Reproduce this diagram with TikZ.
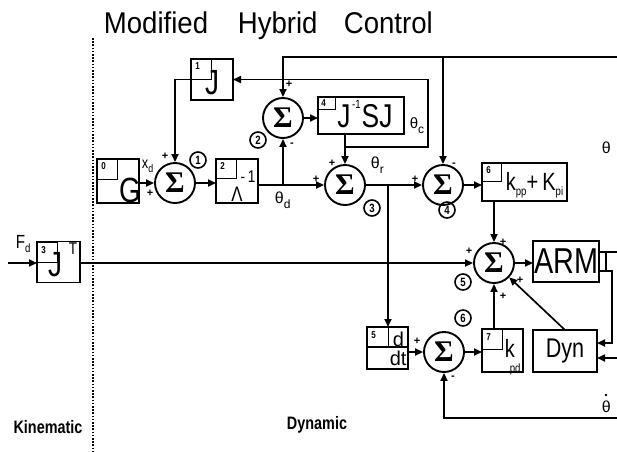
\documentclass[tikz,border=0pt]{standalone}
\usepackage{fontspec}
\setmainfont{Liberation Sans}
\newfontfamily\nar[FakeStretch=0.8]{Liberation Sans}
\newfontfamily\tit[FakeStretch=0.92]{Liberation Sans}
\newfontfamily\ser{Liberation Serif}
\usetikzlibrary{arrows.meta}
\begin{document}
\begin{tikzpicture}[x=1pt,y=-1pt,
 line width=1.7pt,
 blk/.style={draw, line width=1.9pt, inner sep=0pt, outer sep=0pt},
 numbox/.style={draw, line width=1.4pt, inner sep=0pt, anchor=north west},
 numtxt/.style={inner sep=0pt, font=\nar\bfseries\fontsize{10}{10}\selectfont},
 sumn/.style={draw, circle, line width=1.9pt, minimum size=40pt, inner sep=0pt, font=\ser\bfseries\fontsize{30}{30}\selectfont},
 ctag/.style={draw, circle, line width=1.6pt, minimum size=16pt, inner sep=0pt, font=\nar\bfseries\fontsize{12}{12}\selectfont},
 sgn/.style={inner sep=0pt, font=\bfseries\fontsize{11}{11}\selectfont},
 labbig/.style={inner sep=0pt, font=\nar\fontsize{35}{35}\selectfont},
 labtxt/.style={inner sep=0pt, anchor=base west},
 arrw/.style={-{Triangle[length=8pt,width=7pt]}},
 ttl/.style={anchor=base west, inner sep=0pt, font=\tit\fontsize{30}{30}\selectfont},
 zone/.style={inner sep=0pt, font=\nar\bfseries\fontsize{18}{18}\selectfont},
]
\useasboundingbox (0,0) rectangle (617,451);

% title
\node[ttl] (tt1) at (103,33) {Modified};
\node[ttl] (tt2) at (237,33) {Hybrid};
\node[ttl] (tt3) at (343,33) {Control};

% divider
\coordinate (dv1) at (93,38);
\coordinate (dv2) at (93,451);
\draw[line width=2.4pt, dash pattern=on 1.6pt off 1.6pt] (dv1) -- (dv2);

% blocks
\node[blk, minimum width=42pt, minimum height=44pt] (G) at (118,181) {};
\node[blk, minimum width=42pt, minimum height=41pt] (B1) at (212,79.5) {};
\node[blk, minimum width=42pt, minimum height=44pt] (B2) at (237,181) {};
\node[blk, minimum width=43pt, minimum height=41pt] (B3) at (58.5,262) {};
\node[blk, minimum width=86pt, minimum height=37pt] (B4) at (361,115.5) {};
\node[blk, minimum width=41pt, minimum height=42pt] (B5) at (387.5,348) {};
\node[blk, minimum width=85pt, minimum height=38pt] (B6) at (524.5,182) {};
\node[blk, minimum width=41pt, minimum height=43pt] (B7) at (502.5,350.5) {};
\node[blk, minimum width=66pt, minimum height=41pt, font=\nar\fontsize{36}{36}\selectfont] (ARM) at (566,261.5) {ARM};
\node[blk, minimum width=64pt, minimum height=42pt, font=\nar\fontsize{27}{27}\selectfont] (Dyn) at (565,351) {Dyn};

% number boxes
\node[numbox, minimum width=20pt, minimum height=20pt] (n0) at (G.north west) {};
\node[numtxt] (n0t) at ([shift={(6.5,7.5)}]G.north west) {0};
\node[numbox, minimum width=20pt, minimum height=20pt] (n1) at (B1.north west) {};
\node[numtxt] (n1t) at ([shift={(6.5,7.5)}]B1.north west) {1};
\node[numbox, minimum width=20pt, minimum height=19pt] (n2) at (B2.north west) {};
\node[numtxt] (n2t) at ([shift={(6.5,7.5)}]B2.north west) {2};
\node[numbox, minimum width=20pt, minimum height=20pt] (n3) at (B3.north west) {};
\node[numtxt] (n3t) at ([shift={(6.5,8.5)}]B3.north west) {3};
\node[numbox, minimum width=17pt, minimum height=12pt] (n4) at (B4.north west) {};
\node[numtxt] (n4t) at ([shift={(5.5,6)}]B4.north west) {4};
\node[numbox, minimum width=21pt, minimum height=20pt] (n5) at (B5.north west) {};
\node[numtxt] (n5t) at ([shift={(6.5,8.5)}]B5.north west) {5};
\node[numbox, minimum width=19pt, minimum height=18pt] (n6) at (B6.north west) {};
\node[numtxt] (n6t) at ([shift={(6.5,7.5)}]B6.north west) {6};
\node[numbox, minimum width=20pt, minimum height=20pt] (n7) at (B7.north west) {};
\node[numtxt] (n7t) at ([shift={(6.5,8.5)}]B7.north west) {7};
\coordinate (fb1) at (B5.west |- 0,347);
\coordinate (fb2) at (B5.east |- 0,347);
\draw[line width=1.4pt] (fb1) -- (fb2);

% block labels
\node[labbig] (lG) at (130,190) {G};
\node[labbig] (lJ1) at (212,83) {J};
\node[inner sep=0pt, font=\nar\fontsize{21}{21}\selectfont] (lL) at (237,194) {Λ};
\node[inner sep=0pt, font=\nar\fontsize{17}{17}\selectfont] (lL2) at (248,177) {-\,1};
\node[labbig] (lJ3) at (55,265) {J};
\node[inner sep=0pt, font=\nar\fontsize{17}{17}\selectfont] (lT3) at (73,249) {T};
\node[labtxt, anchor=base, font=\nar\fontsize{33}{33}\selectfont] (lB4) at (365,127)
  {J\kern1.5pt\raisebox{19pt}{\fontsize{12}{12}\selectfont -1}\kern1pt SJ};
\node[labtxt, font=\nar\fontsize{25}{25}\selectfont] (lB6) at (505,190)
  {k\raisebox{-5pt}{\fontsize{12}{12}\selectfont pp}+\,K\raisebox{-5pt}{\fontsize{12}{12}\selectfont pi}};
\node[labtxt, font=\fontsize{20}{20}\selectfont] (lB5a) at (392,346) {d};
\node[labtxt, font=\fontsize{20}{20}\selectfont] (lB5b) at (389,365) {dt};
\node[labtxt, font=\nar\fontsize{25}{25}\selectfont] (lB7a) at (504,357) {k};
\node[labtxt, font=\nar\fontsize{12}{12}\selectfont] (lB7b) at (509,372.5) {pd};

% summing junctions
\node[sumn] (S1) at (175,183) {Σ};
\node[sumn] (S2) at (283,118) {Σ};
\node[sumn] (S3) at (345,185) {Σ};
\node[sumn] (S4) at (443,185) {Σ};
\node[sumn] (S5) at (494,263) {Σ};
\node[sumn] (S6) at (444,352) {Σ};

% circled tags
\node[ctag] (T1) at (198,160) {1};
\node[ctag] (T2) at (258,140) {2};
\node[ctag] (T3) at (372,208) {3};
\node[ctag] (T4) at (447,210) {4};
\node[ctag] (T5) at (463,282) {5};
\node[ctag] (T6) at (463,318) {6};

% signs
\node[sgn] (g1a) at (165,156) {+};
\node[sgn] (g1b) at (150,193) {+};
\node[sgn] (g2a) at (289,84) {+};
\node[sgn] (g2b) at (292,145) {-};
\node[sgn] (g3a) at (332,163) {+};
\node[sgn] (g3b) at (316,179) {+};
\node[sgn] (g4a) at (415,179) {+};
\node[sgn] (g4b) at (454,165) {-};
\node[sgn] (g5a) at (469,251) {+};
\node[sgn] (g5b) at (503,242) {+};
\node[sgn] (g5c) at (520,280) {+};
\node[sgn] (g5d) at (503,296) {+};
\node[sgn] (g6a) at (417,341) {+};
\node[sgn] (g6b) at (453,378) {-};

% signal labels
\node[labtxt, font=\nar\fontsize{16}{16}\selectfont] (xd) at (141,168) {x\raisebox{-4pt}{\fontsize{11}{11}\selectfont d}};
\node[labtxt, font=\fontsize{16}{16}\selectfont] (thd) at (274,203) {θ\raisebox{-5pt}{\fontsize{12}{12}\selectfont d}};
\node[labtxt, font=\fontsize{16}{16}\selectfont] (thr) at (370,168) {θ\raisebox{-5pt}{\fontsize{12}{12}\selectfont r}};
\node[labtxt, font=\fontsize{15}{15}\selectfont] (thc) at (409,128) {θ\raisebox{-5pt}{\fontsize{12}{12}\selectfont c}};
\node[labtxt, font=\fontsize{16}{16}\selectfont] (th) at (601,153) {θ};
\node[labtxt, font=\fontsize{16}{16}\selectfont] (thdot) at (601,412) {θ};
\fill (606,395) circle (1.3pt);
\node[labtxt, font=\nar\fontsize{19}{19}\selectfont] (Fd) at (15,248) {F\raisebox{-4pt}{\fontsize{12}{12}\selectfont d}};
\node[zone] (kin) at (48,427) {Kinematic};
\node[zone] (dyn) at (317,425) {Dynamic};

% connectors
\coordinate (thR) at (617,57);
\draw[arrw] (thR) -- (S2 |- thR) -- (S2.north);
\draw[arrw] (S4 |- thR) -- (S4.north);
\draw[arrw] (S1 -| G.east) -- (S1.west);
\draw[arrw] (S1.east) -- (S1 -| B2.west);
\draw[arrw] (B1.west) -- (S1 |- B1.west) -- (S1.north);
\coordinate (jd) at (S2 |- S3);
\draw[arrw] (S3 -| B2.east) -- (S3.west);
\draw[arrw] (jd) -- (S2.south);
\draw[arrw] (S2.east) -- (S2 -| B4.west);
\coordinate (jc) at (345,147);
\coordinate (lpR) at (428,147);
\coordinate (lpT) at (lpR |- B1.east);
\draw[arrw] (S3 |- B4.south) -- (S3.north);
\draw[arrw] (jc) -- (lpR) -- (lpT) -- (B1.east);
\draw[arrw] (S3.east) -- (S4.west);
\coordinate (jr) at (388,185);
\draw[arrw] (jr) -- (jr |- B5.north);
\draw[arrw] (S4.east) -- (S4 -| B6.west);
\draw[arrw] (S5 |- B6.south) -- (S5.north);
\coordinate (Fin) at (8,263);
\draw[arrw] (Fin) -- (B3.west |- Fin);
\draw[arrw] (S5 -| B3.east) -- (S5.west);
\draw[arrw] (S5.east) -- (S5 -| ARM.west);
\draw[arrw] (Dyn.north) -- (S5);
\draw[arrw] (S6 -| B5.east) -- (S6.west);
\draw[arrw] (S6.east) -- (S6 -| B7.west);
\draw[arrw] (S5 |- B7.north) -- (S5.south);
\coordinate (fbR) at (617,418);
\draw[arrw] (fbR) -- (S6 |- fbR) -- (S6.south);
\coordinate (ao1) at (617,252);
\coordinate (ak) at (612,271);
\coordinate (akd) at (612,343);
\coordinate (dinR) at (617,358);
\coordinate (ab1) at (606,252);
\coordinate (ab2) at (606,271);
\draw (ARM.east |- ao1) -- (ao1);
\draw[arrw] (ARM.east |- ak) -- (ak) -- (akd) -- (Dyn.east |- akd);
\draw (ab1) -- (ab2);
\draw[arrw] (dinR) -- (Dyn.east |- dinR);
\end{tikzpicture}
\end{document}
